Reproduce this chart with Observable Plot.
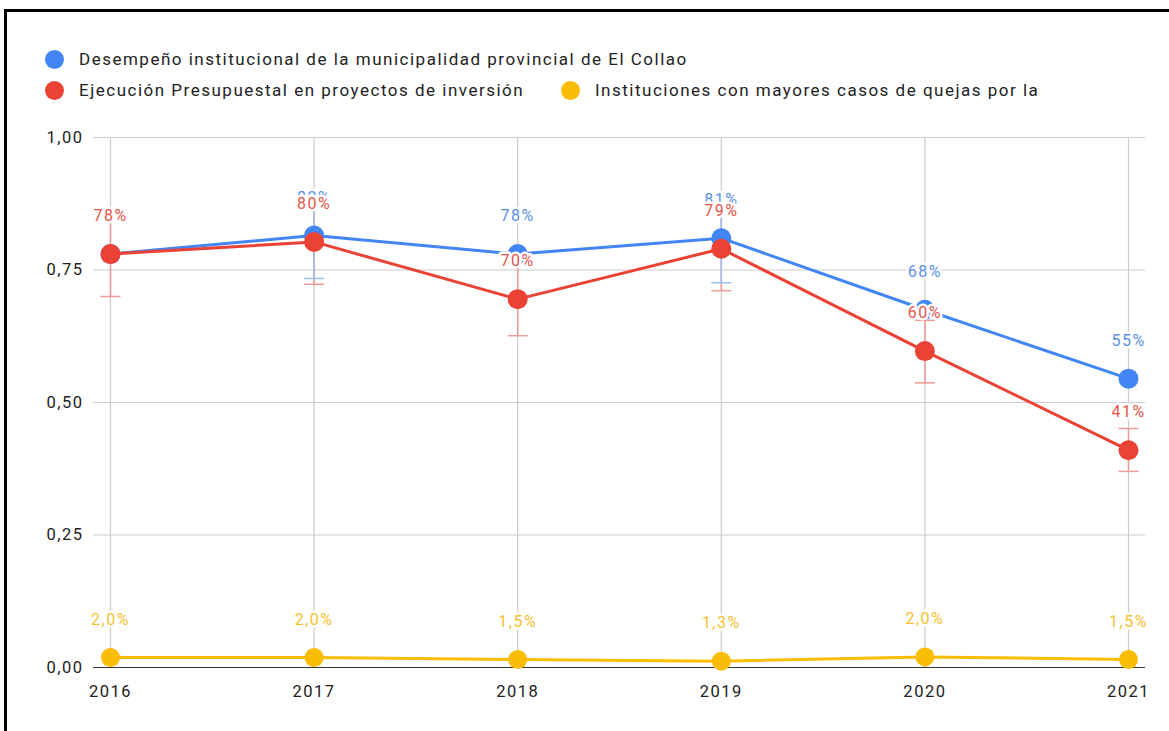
<!DOCTYPE html>
<html>
<head>
<meta charset="utf-8">
<script src="https://cdn.jsdelivr.net/npm/d3@7"></script>
<script src="https://cdn.jsdelivr.net/npm/@observablehq/plot@0.6"></script>
<style>
  html, body { margin: 0; padding: 0; background: #fff; }
  body { width: 1169px; height: 731px; position: relative; overflow: hidden; font-family: Roboto, "Noto Sans", sans-serif; }
  #frame { position: absolute; left: 4px; top: 9px; width: 1200px; height: 800px; border-top: 3px solid #000; border-left: 3px solid #000; }
  .leg { position: absolute; display: flex; align-items: center; font-size: 17px; letter-spacing: 1.5px; color: #222; white-space: nowrap; }
  .leg .sw { width: 19px; height: 19px; border-radius: 50%; margin-right: 15px; flex: none; }
  #chart { position: absolute; left: 0; top: 110px; }
  #chart svg text { letter-spacing: 1.5px; }
</style>
</head>
<body>
<div id="frame"></div>
<div id="legend"></div>
<div id="chart"></div>
<script>
// ---- data ----
const years = [2016, 2017, 2018, 2019, 2020, 2021];
const seriesNames = [
  "Desempeño institucional de la municipalidad provincial de El Collao",
  "Ejecución Presupuestal en proyectos de inversión",
  "Instituciones con mayores casos de quejas por la"
];
const seriesColors = ["#4285F4", "#EA4335", "#FBBC04"];
const desempeno = [0.78, 0.815, 0.78, 0.81, 0.675, 0.545];
const desempenoLabels = ["78%", "82%", "78%", "81%", "68%", "55%"];
const desempenoLow = [null, 0.734, null, 0.726, null, null];
const desempenoHigh = [null, 0.89, null, 0.89, null, null];
const ejecucion = [0.78, 0.803, 0.695, 0.79, 0.597, 0.41];
const ejecucionLabels = ["78%", "80%", "70%", "79%", "60%", "41%"];
const ejecucionLow = [0.70, 0.723, 0.626, 0.711, 0.537, 0.37];
const ejecucionHigh = [0.86, 0.88, 0.765, 0.87, 0.655, 0.451];
const quejas = [0.019, 0.019, 0.015, 0.012, 0.02, 0.015];
const quejasLabels = ["2,0%", "2,0%", "1,5%", "1,3%", "2,0%", "1,5%"];
const yTicks = [0, 0.25, 0.5, 0.75, 1];

// ---- legend ----
const legend = document.getElementById("legend");
const legendPos = [[45, 59], [45, 90], [561, 90]];
seriesNames.forEach((name, i) => {
  const el = document.createElement("div");
  el.className = "leg";
  el.style.left = legendPos[i][0] + "px";
  el.style.top = (legendPos[i][1] - 11) + "px";
  el.style.height = "22px";
  el.innerHTML = `<span class="sw" style="background:${seriesColors[i]}"></span><span>${name}</span>`;
  legend.appendChild(el);
});

// ---- tables ----
const blue = years.map((year, i) => ({year, v: desempeno[i], label: desempenoLabels[i], low: desempenoLow[i], high: desempenoHigh[i]}));
const red = years.map((year, i) => ({year, v: ejecucion[i], label: ejecucionLabels[i], low: ejecucionLow[i], high: ejecucionHigh[i]}));
const yellow = years.map((year, i) => ({year, v: quejas[i], label: quejasLabels[i]}));
const blueErr = blue.filter(d => d.low != null);
const redErr = red.filter(d => d.low != null);

const cap = { draw(context) { context.moveTo(-10, 0); context.lineTo(10, 0); } };
const fmt = d => d.toFixed(2).replace(".", ",");

const labelStyle = { dy: -38, fontSize: 16, stroke: "white", strokeWidth: 5, fontFamily: "Roboto" };

const chart = Plot.plot({
  width: 1169,
  height: 621,
  marginTop: 27,
  marginBottom: 64,
  marginLeft: 93,
  marginRight: 24,
  x: { domain: [2016, 2021], insetLeft: 17, insetRight: 17 },
  y: { domain: [0, 1] },
  style: { fontFamily: "Roboto, sans-serif", fontSize: "16.5px", color: "#222", background: "transparent" },
  marks: [
    Plot.ruleY(yTicks.filter(d => d > 0), { stroke: "#cccccc", strokeWidth: 1.2 }),
    Plot.ruleX(years, { y1: 0, y2: 1, stroke: "#cccccc", strokeWidth: 1.2 }),
    Plot.axisY({ ticks: yTicks, tickFormat: fmt, tickSize: 0, tickPadding: 10, label: null, fill: "#222" }),
    Plot.axisX({ ticks: years, tickFormat: d => String(d), tickSize: 0, tickPadding: 18, label: null, fill: "#222" }),
    // error bars
    Plot.ruleX(redErr, { x: "year", y1: "low", y2: "high", stroke: "#ef9a94", strokeWidth: 1.5 }),
    Plot.dot(redErr, { x: "year", y: "low", symbol: cap, stroke: "#ef9a94", strokeWidth: 1.5, fill: "none" }),
    Plot.dot(redErr, { x: "year", y: "high", symbol: cap, stroke: "#ef9a94", strokeWidth: 1.5, fill: "none" }),
    Plot.ruleX(blueErr, { x: "year", y1: "low", y2: "high", stroke: "#9dbdf5", strokeWidth: 1.5 }),
    Plot.dot(blueErr, { x: "year", y: "low", symbol: cap, stroke: "#9dbdf5", strokeWidth: 1.5, fill: "none" }),
    Plot.dot(blueErr, { x: "year", y: "high", symbol: cap, stroke: "#9dbdf5", strokeWidth: 1.5, fill: "none" }),
    Plot.ruleY([0], { stroke: "#333", strokeWidth: 1.2 }),
    // lines and points
    Plot.line(yellow, { x: "year", y: "v", stroke: seriesColors[2], strokeWidth: 3 }),
    Plot.dot(yellow, { x: "year", y: "v", r: 9.5, fill: seriesColors[2] }),
    Plot.line(blue, { x: "year", y: "v", stroke: seriesColors[0], strokeWidth: 3 }),
    Plot.dot(blue, { x: "year", y: "v", r: 10, fill: seriesColors[0] }),
    Plot.line(red, { x: "year", y: "v", stroke: seriesColors[1], strokeWidth: 3 }),
    Plot.dot(red, { x: "year", y: "v", r: 10, fill: seriesColors[1] }),
    // labels
    Plot.text(yellow, { x: "year", y: "v", text: "label", fill: "#f6c12e", ...labelStyle }),
    Plot.text(blue, { x: "year", y: "v", text: "label", fill: "#5a8fe6", ...labelStyle }),
    Plot.text(red, { x: "year", y: "v", text: "label", fill: "#e5554a", ...labelStyle })
  ]
});
document.getElementById("chart").appendChild(chart);
</script>
</body>
</html>
